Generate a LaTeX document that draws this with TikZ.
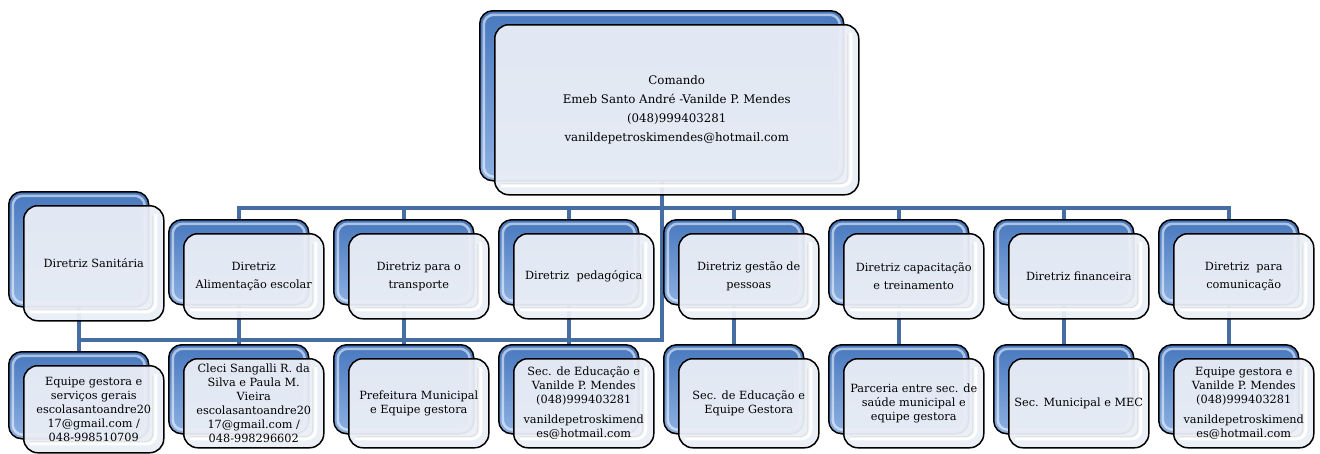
\documentclass[tikz,border=0pt]{standalone}
\usepackage{fontspec}
\setmainfont{DejaVu Serif}
\usetikzlibrary{backgrounds}
\definecolor{connc}{RGB}{71,110,163}
\definecolor{bbtop}{RGB}{72,120,190}
\definecolor{bbbot}{RGB}{140,176,226}
\definecolor{fbfill}{RGB}{234,238,246}
\tikzset{
  conn/.style={draw=connc, line width=4.5pt, line join=miter},
  backbox/.style={draw=black, line width=1.5pt, rounded corners=13pt,
    top color=bbtop, bottom color=bbbot, inner sep=0pt, anchor=north west,
    path picture={\draw[white, opacity=0.55, line width=2.5pt, rounded corners=10pt]
      ([shift={(4pt,-4pt)}]path picture bounding box.north west) rectangle
      ([shift={(-4pt,4pt)}]path picture bounding box.south east);}},
  frontbox/.style={draw=black, line width=1.5pt, rounded corners=14pt,
    fill=fbfill, fill opacity=0.95, draw opacity=1, text opacity=1,
    inner sep=2pt, align=center, anchor=north west,
    path picture={\draw[white, line width=3pt, rounded corners=9pt]
      ([shift={(-8pt,-8pt)}]path picture bounding box.north east) --
      ([shift={(-8pt,9pt)}]path picture bounding box.south east) --
      ([shift={(6pt,9pt)}]path picture bounding box.south west);
      \draw[black!14, line width=0.7pt, rounded corners=8pt]
      ([shift={(-11pt,-10pt)}]path picture bounding box.north east) --
      ([shift={(-11pt,11pt)}]path picture bounding box.south east) --
      ([shift={(6pt,11pt)}]path picture bounding box.south west);}},
  dfont/.style={font=\fontsize{11.3}{18}\selectfont},
  kfont/.style={font=\fontsize{11.3}{14}\selectfont},
  cfont/.style={font=\fontsize{11.8}{19}\selectfont}
}
% name, x, y, w, h, font style, text
\newcommand\boxpair[7]{%
  \node[backbox, minimum width=#4pt, minimum height=#5pt] (bk#1) at (#2-15,#3-14) {};
  \node[frontbox, #6, minimum width=#4pt, minimum height=#5pt] (#1) at (#2,#3) {#7};
}
\begin{document}
\begin{tikzpicture}[x=1pt,y=-1pt]
\useasboundingbox (0,0) rectangle (1320,453);

\boxpair{cmd}{494}{24}{364}{170}{cfont}{Comando\\Emeb Santo André -Vanilde P. Mendes\\(048)999403281\\vanildepetroskimendes@hotmail.com}

\boxpair{san}{23}{205}{140}{115}{dfont}{Diretriz Sanitária}
\boxpair{d1}{183}{233}{140}{85}{dfont}{Diretriz\\Alimentação escolar}
\boxpair{d2}{348}{233}{140}{85}{dfont}{Diretriz para o\\transporte}
\boxpair{d3}{513}{233}{140}{85}{dfont}{Diretriz\ \ pedagógica}
\boxpair{d4}{678}{233}{140}{85}{dfont}{Diretriz gestão de\\pessoas}
\boxpair{d5}{843}{233}{140}{85}{dfont}{Diretriz capacitação\\e treinamento}
\boxpair{d6}{1008}{233}{140}{85}{dfont}{Diretriz financeira}
\boxpair{d7}{1173}{233}{140}{85}{dfont}{Diretriz\ \ para\\comunicação}

\boxpair{k0}{23}{365}{140}{87}{kfont}{Equipe gestora e\\serviços gerais\\escolasantoandre20\\17@gmail.com /\\048-998510709}
\boxpair{k1}{183}{358}{140}{89}{kfont}{Cleci Sangalli R. da\\Silva e Paula M.\\Vieira\\escolasantoandre20\\17@gmail.com /\\048-998296602}
\boxpair{k2}{348}{358}{140}{89}{kfont}{Prefeitura Municipal\\e Equipe gestora}
\boxpair{k3}{513}{358}{140}{89}{kfont}{Sec. de Educação e\\Vanilde P. Mendes\\(048)999403281\\[6pt]vanildepetroskimend\\es@hotmail.com}
\boxpair{k4}{678}{358}{140}{89}{kfont}{Sec. de Educação e\\Equipe Gestora}
\boxpair{k5}{843}{358}{140}{89}{kfont}{Parceria entre sec. de\\saúde municipal e\\equipe gestora}
\boxpair{k6}{1008}{358}{140}{89}{kfont}{Sec. Municipal e MEC}
\boxpair{k7}{1173}{358}{140}{89}{kfont}{Equipe gestora e\\Vanilde P. Mendes\\(048)999403281\\[6pt]vanildepetroskimend\\es@hotmail.com}

\begin{pgfonlayer}{background}
\coordinate (ub) at (0,208);
\coordinate (lb) at (0,340);
\draw[conn] (bkd1.center) -- (bkd1.center |- ub) -- (bkd7.center |- ub) -- (bkd7.center);
\foreach \i in {2,...,6} \draw[conn] (bkd\i.center) -- (bkd\i.center |- ub);
\draw[conn] (bkcmd.center) -- (bkcmd.center |- lb) -- (bksan.center |- lb);
\draw[conn] (bksan.center) -- (bkk0.center);
\foreach \i in {1,...,7} \draw[conn] (bkd\i.center) -- (bkk\i.center);
\end{pgfonlayer}
\end{tikzpicture}
\end{document}
